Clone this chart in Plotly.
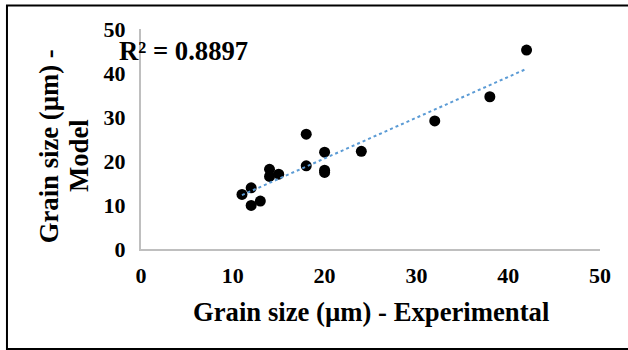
import numpy as np
import plotly.graph_objects as go

# Measured grain sizes (µm): experiment vs. model prediction
experimental = [11, 12, 12, 13, 14, 14, 15, 18, 18, 20, 20, 20, 24, 32, 38, 42]
model = [12.4, 13.9, 9.9, 10.9, 18.1, 16.5, 17.0, 26.1, 18.9, 22.0, 17.9, 17.4, 22.2, 29.1, 34.6, 45.2]
r_squared_label = "R² = 0.8897"
x_ticks = [0, 10, 20, 30, 40, 50]
y_ticks = [0, 10, 20, 30, 40, 50]

FONT = "Liberation Serif, Times New Roman, serif"
TITLE_SIZE = 26.7

# Linear least-squares trendline across the experimental range
slope, intercept = np.polyfit(experimental, model, 1)
trend_x = [min(experimental), max(experimental)]
trend_y = [slope * v + intercept for v in trend_x]

fig = go.Figure()
fig.add_trace(go.Scatter(
    x=experimental, y=model, mode="markers",
    marker=dict(color="black", size=11, line=dict(width=0)),
    showlegend=False,
))
fig.add_trace(go.Scatter(
    x=trend_x, y=trend_y, mode="lines",
    line=dict(color="#5b9bd5", width=2, dash="dot"),
    showlegend=False,
))

axis_common = dict(
    showgrid=False, zeroline=False, showline=True, linecolor="#bfbfbf", linewidth=2,
    ticks="", tickfont=dict(family=FONT, size=22, color="black", weight="bold"),
)
fig.update_xaxes(range=[0, 50], tickvals=x_ticks, ticklabelstandoff=6, **axis_common)
fig.update_yaxes(range=[0, 50], tickvals=y_ticks, ticklabelstandoff=9, **axis_common)

title_font = dict(family=FONT, size=TITLE_SIZE, color="black")
fig.add_annotation(
    text="<b>Grain size (µm) - Experimental</b>", xref="paper", yref="paper",
    x=0.5, y=-0.286, xanchor="center", yanchor="middle", showarrow=False,
    font=title_font,
)
fig.add_annotation(
    text="<b>Grain size (µm) -</b>", xref="paper", yref="paper",
    x=-0.2, y=0.468, xanchor="center", yanchor="middle", showarrow=False, textangle=-90,
    font=title_font,
)
fig.add_annotation(
    text="<b>Model</b>", xref="paper", yref="paper",
    x=-0.135, y=0.423, xanchor="center", yanchor="middle", showarrow=False, textangle=-90,
    font=title_font,
)
fig.add_annotation(
    text=f"<b>{r_squared_label}</b>", xref="paper", yref="paper",
    x=-0.052, y=0.9, xanchor="left", yanchor="middle", showarrow=False,
    font=title_font,
)

# Outer frame around the whole chart
fig.add_shape(
    type="rect", xref="paper", yref="paper",
    x0=-0.292, x1=1.1, y0=-0.455, y1=1.107,
    line=dict(color="black", width=2), fillcolor="rgba(0,0,0,0)", layer="below",
)

fig.update_layout(
    width=628, height=350,
    margin=dict(l=141, r=28, t=29, b=101),
    paper_bgcolor="white", plot_bgcolor="white",
)

fig.write_html("out.html")
